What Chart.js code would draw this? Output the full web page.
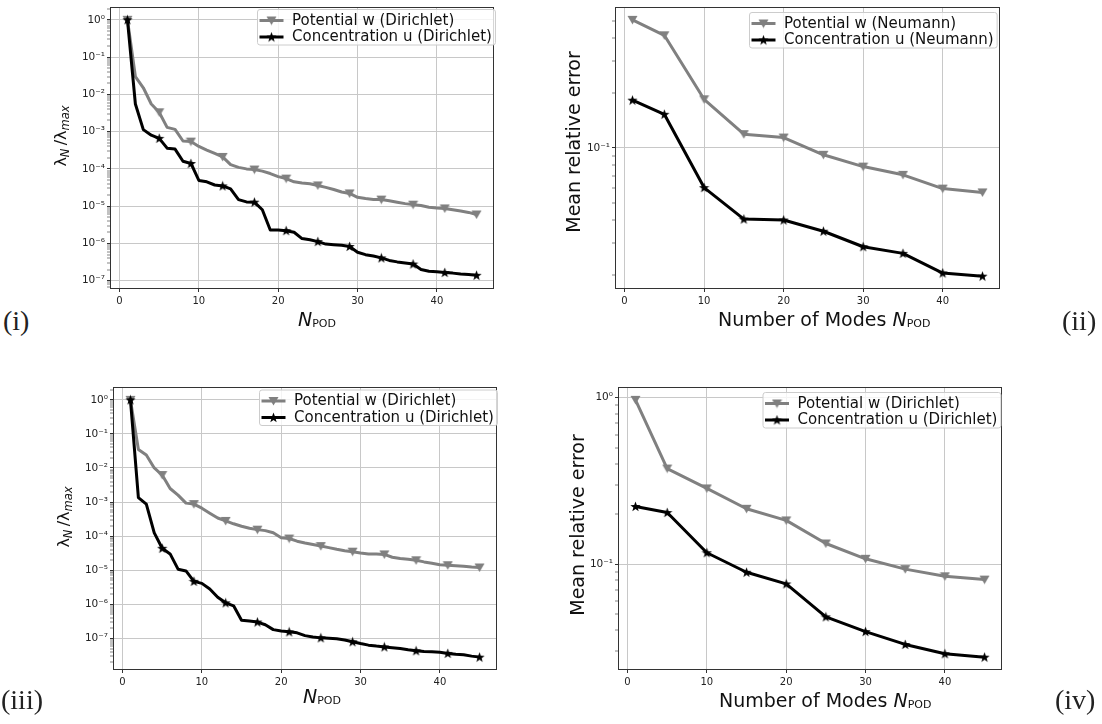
<!DOCTYPE html>
<html>
<head>
<meta charset="utf-8">
<script src="https://cdn.jsdelivr.net/npm/chart.js@4.4.1/dist/chart.umd.min.js"></script>
<style>
  body { margin: 0; background: #fff; }
  #fig { position: relative; width: 1102px; height: 724px; overflow: hidden;
         font-family: "DejaVu Sans", sans-serif; color: #111; }
  canvas { position: absolute; }
  .t { position: absolute; white-space: nowrap; }
  .rot { transform: translate(-50%, -50%) rotate(-90deg); }
  .sub { font-size: 11px; font-style: normal; position: relative; top: 1px; }
  .s { font-size: 11.5px; font-style: italic; position: relative; top: 3px; }
  .tag { font-family: "Liberation Serif", serif; font-size: 28px; line-height: 28px; color: #222; }
</style>
</head>
<body>
<div id="fig">
  <canvas id="c1" width="432" height="312" style="left:70px;top:0px"></canvas>
  <canvas id="c2" width="432" height="312" style="left:575px;top:0px"></canvas>
  <canvas id="c3" width="432" height="313" style="left:73px;top:380px"></canvas>
  <canvas id="c4" width="432" height="313" style="left:578px;top:380px"></canvas>

  <!-- axis titles -->
  <div class="t rot" style="left:61px;top:136px;font-size:16px;line-height:16px">λ<i class="s">N</i>&thinsp;/λ<i class="s">max</i></div>
  <div class="t" style="left:298px;top:310px;font-size:19px;line-height:19px"><i>N</i><span class="sub">POD</span></div>
  <div class="t rot" style="left:573px;top:142px;font-size:19px;line-height:19px">Mean relative error</div>
  <div class="t" style="left:718px;top:310px;font-size:19px;line-height:19px">Number of Modes <i>N</i><span class="sub">POD</span></div>

  <div class="t rot" style="left:64px;top:517px;font-size:16px;line-height:16px">λ<i class="s">N</i>&thinsp;/λ<i class="s">max</i></div>
  <div class="t" style="left:303px;top:687px;font-size:19px;line-height:19px"><i>N</i><span class="sub">POD</span></div>
  <div class="t rot" style="left:577px;top:525px;font-size:19px;line-height:19px">Mean relative error</div>
  <div class="t" style="left:719px;top:691px;font-size:19px;line-height:19px">Number of Modes <i>N</i><span class="sub">POD</span></div>

  <!-- panel tags -->
  <div class="t tag" style="left:3px;top:307px">(i)</div>
  <div class="t tag" style="left:1062px;top:307px">(ii)</div>
  <div class="t tag" style="left:1px;top:686px">(iii)</div>
  <div class="t tag" style="left:1055px;top:686px">(iv)</div>
</div>

<script>
// POD eigenvalue decay, x = number of modes
const nPod = [1, 2, 3, 4, 5, 6, 7, 8, 9, 10,
  11, 12, 13, 14, 15, 16, 17, 18, 19, 20,
  21, 22, 23, 24, 25, 26, 27, 28, 29, 30,
  31, 32, 33, 34, 35, 36, 37, 38, 39, 40,
  41, 42, 43, 44, 45];

// panel (i)
const eigPotentialDir1 = [1, 3.0e-2, 1.5e-2, 5.5e-3, 3.3e-3, 1.3e-3, 1.15e-3, 5.6e-4, 5.4e-4, 4.0e-4,
  3.2e-4, 2.6e-4, 2.1e-4, 1.3e-4, 1.1e-4, 1.0e-4, 9.6e-5, 8.7e-5, 7.5e-5, 6.2e-5,
  5.5e-5, 4.5e-5, 4.2e-5, 4.0e-5, 3.6e-5, 3.2e-5, 2.8e-5, 2.4e-5, 2.2e-5, 1.73e-5,
  1.6e-5, 1.52e-5, 1.5e-5, 1.4e-5, 1.28e-5, 1.17e-5, 1.1e-5, 1.04e-5, 9.4e-6, 8.9e-6,
  8.7e-6, 8.0e-6, 7.4e-6, 6.8e-6, 6.0e-6];
const eigConcDir1 = [1, 5.5e-3, 1.13e-3, 8.0e-4, 6.6e-4, 3.6e-4, 3.4e-4, 1.6e-4, 1.4e-4, 4.9e-5,
  4.5e-5, 3.7e-5, 3.5e-5, 2.9e-5, 1.5e-5, 1.3e-5, 1.28e-5, 8.0e-6, 2.3e-6, 2.3e-6,
  2.2e-6, 2.0e-6, 1.35e-6, 1.25e-6, 1.12e-6, 9.6e-7, 9.2e-7, 8.9e-7, 8.3e-7, 5.8e-7,
  5.0e-7, 4.6e-7, 4.1e-7, 3.5e-7, 3.2e-7, 3.0e-7, 2.8e-7, 2.0e-7, 1.8e-7, 1.75e-7,
  1.66e-7, 1.6e-7, 1.52e-7, 1.47e-7, 1.4e-7];

// panel (iii)
const eigPotentialDir2 = [1, 3.5e-2, 2.4e-2, 1.0e-2, 6.2e-3, 2.5e-3, 1.6e-3, 9.3e-4, 8.7e-4, 6.6e-4,
  4.7e-4, 3.4e-4, 2.8e-4, 2.3e-4, 1.95e-4, 1.7e-4, 1.55e-4, 1.45e-4, 1.25e-4, 9.0e-5,
  8.5e-5, 7.1e-5, 6.3e-5, 5.7e-5, 5.1e-5, 4.6e-5, 4.1e-5, 3.7e-5, 3.5e-5, 3.2e-5,
  3.0e-5, 3.0e-5, 2.9e-5, 2.4e-5, 2.2e-5, 2.1e-5, 1.95e-5, 1.75e-5, 1.6e-5, 1.44e-5,
  1.4e-5, 1.35e-5, 1.3e-5, 1.23e-5, 1.2e-5];
const eigConcDir2 = [1, 1.35e-3, 8.7e-4, 1.25e-4, 4.4e-5, 3.0e-5, 1.07e-5, 9.5e-6, 4.7e-6, 4.1e-6,
  2.8e-6, 1.6e-6, 1.1e-6, 9.0e-7, 3.4e-7, 3.2e-7, 3.0e-7, 2.5e-7, 1.8e-7, 1.65e-7,
  1.55e-7, 1.45e-7, 1.2e-7, 1.1e-7, 1.03e-7, 1.0e-7, 9.7e-8, 8.9e-8, 7.9e-8, 7.0e-8,
  6.3e-8, 5.9e-8, 5.6e-8, 5.3e-8, 5.0e-8, 4.6e-8, 4.3e-8, 4.1e-8, 4.0e-8, 3.9e-8,
  3.6e-8, 3.4e-8, 3.3e-8, 3.0e-8, 2.8e-8];

// mean relative error vs number of modes
const nModes = [1, 5, 10, 15, 20, 25, 30, 35, 40, 45];
const errPotentialNeu = [0.506, 0.416, 0.185, 0.119, 0.114, 0.0916, 0.0789, 0.0711, 0.0597, 0.0569];
const errConcNeu = [0.183, 0.153, 0.0605, 0.0406, 0.0401, 0.0348, 0.0286, 0.0263, 0.0205, 0.0197];
const errPotentialDir = [0.97, 0.375, 0.285, 0.215, 0.183, 0.133, 0.1076, 0.0933, 0.0845, 0.0807];
const errConcDir = [0.222, 0.204, 0.117, 0.0893, 0.076, 0.0482, 0.0393, 0.0329, 0.0289, 0.0276];

const xTickValues = [0, 10, 20, 30, 40];
const labelsDir = ['Potential w (Dirichlet)', 'Concentration u (Dirichlet)'];
const labelsNeu = ['Potential w (Neumann)', 'Concentration u (Neumann)'];

const GRAY = '#808080';
const FONT = '"DejaVu Sans", sans-serif';

// matplotlib-like markers ('v' and '*')
function triMarker() {
  const c = document.createElement('canvas');
  c.width = 11; c.height = 10;
  const g = c.getContext('2d');
  g.fillStyle = GRAY;
  g.beginPath();
  g.moveTo(0.5, 1); g.lineTo(10.5, 1); g.lineTo(5.5, 9.5);
  g.closePath(); g.fill();
  return c;
}
function starMarker() {
  const c = document.createElement('canvas');
  c.width = 11; c.height = 11;
  const g = c.getContext('2d');
  g.fillStyle = '#000';
  g.beginPath();
  for (let k = 0; k < 10; k++) {
    const r = k % 2 ? 2.2 : 5.4;
    const a = -Math.PI / 2 + k * Math.PI / 5;
    g.lineTo(5.5 + r * Math.cos(a), 5.9 + r * Math.sin(a));
  }
  g.closePath(); g.fill();
  return c;
}
const TRI = triMarker(), STAR = starMarker();

const isDecade = v => Math.abs(Math.log10(v) - Math.round(Math.log10(v))) < 1e-6;
const SUP = { '-': '⁻', '0': '⁰', '1': '¹', '2': '²', '3': '³', '4': '⁴', '5': '⁵', '6': '⁶', '7': '⁷', '8': '⁸', '9': '⁹' };
const expLabel = v => '10' + String(Math.round(Math.log10(v))).split('').map(ch => SUP[ch]).join('');

function logTicks(min, max) {
  const out = [];
  for (let e = Math.floor(Math.log10(min)); e <= Math.ceil(Math.log10(max)); e++) {
    for (let m = 1; m < 10; m++) {
      const v = m * Math.pow(10, e);
      if (v >= min && v <= max) out.push({ value: v });
    }
  }
  return out;
}
// matplotlib autoscale: 5% margin (in log space for y)
function logRange(arrs) {
  let lo = Infinity, hi = -Infinity;
  arrs.forEach(a => a.forEach(v => { const l = Math.log10(v); lo = Math.min(lo, l); hi = Math.max(hi, l); }));
  const m = (hi - lo) * 0.05;
  return [Math.pow(10, lo - m), Math.pow(10, hi + m)];
}
function linRange(a) {
  const lo = Math.min(...a), hi = Math.max(...a), m = (hi - lo) * 0.05;
  return [lo - m, hi + m];
}

// axes frame (all four spines)
const framePlugin = {
  id: 'frame',
  afterDatasetsDraw(chart) {
    const { ctx, chartArea: a } = chart;
    ctx.save();
    ctx.strokeStyle = '#333';
    ctx.lineWidth = 1;
    ctx.strokeRect(Math.round(a.left) + 0.5, Math.round(a.top) + 0.5,
      Math.round(a.right - a.left) - 1, Math.round(a.bottom - a.top) - 1);
    ctx.restore();
  }
};

// legend box in the upper right, drawn inside the axes
const legendPlugin = {
  id: 'panelLegend',
  afterDraw(chart, args, opts) {
    const { ctx, chartArea: a } = chart;
    const sets = chart.data.datasets.slice().sort((p, q) => q.order - p.order);
    ctx.save();
    ctx.font = '15px ' + FONT;
    const tw = Math.max(...sets.map(d => ctx.measureText(d.label).width));
    const x0 = a.left + opts.dx, y0 = a.top + opts.dy;
    const w = 35 + tw + 3, h = 35.5;
    ctx.fillStyle = 'rgba(255,255,255,0.8)';
    ctx.strokeStyle = '#cccccc';
    ctx.lineWidth = 1;
    ctx.beginPath();
    ctx.roundRect(x0 + 0.5, y0 + 0.5, w, h, 2.5);
    ctx.fill(); ctx.stroke();
    sets.forEach((d, i) => {
      const y = y0 + 11.5 + i * 16.5;
      ctx.strokeStyle = d.borderColor;
      ctx.lineWidth = 3;
      ctx.beginPath();
      ctx.moveTo(x0 + 2.5, y); ctx.lineTo(x0 + 26.5, y);
      ctx.stroke();
      const img = d.pointStyle;
      ctx.drawImage(img, x0 + 14.5 - img.width / 2, y - img.height / 2);
      ctx.fillStyle = '#111';
      ctx.textBaseline = 'middle';
      ctx.fillText(d.label, x0 + 35, y + 0.5);
    });
    ctx.restore();
  }
};

function series(label, xs, ys, color, marker, every, order) {
  return {
    label, order,
    data: xs.map((x, i) => ({ x, y: ys[i] })),
    borderColor: color, backgroundColor: color,
    borderWidth: 3, borderJoinStyle: 'round', borderCapStyle: 'round',
    pointStyle: marker,
    pointRadius: ctx => (ctx.dataIndex % every === 0 ? 4 : 0),
    tension: 0, fill: false
  };
}

function makePanel(id, xs, ys, labels, every, legend, padTop, padRight) {
  const [ymin, ymax] = logRange(ys);
  const [xmin, xmax] = linRange(xs);
  new Chart(document.getElementById(id), {
    type: 'line',
    data: {
      datasets: [
        series(labels[0], xs, ys[0], GRAY, TRI, every, 2),
        series(labels[1], xs, ys[1], '#000', STAR, every, 1)
      ]
    },
    options: {
      responsive: false, animation: false, events: [],
      layout: { padding: { top: padTop, right: padRight, left: 0, bottom: 0 } },
      plugins: { legend: { display: false }, tooltip: { enabled: false }, panelLegend: legend },
      scales: {
        x: {
          type: 'linear', min: xmin, max: xmax,
          afterBuildTicks: s => { s.ticks = xTickValues.map(v => ({ value: v })); },
          afterFit: s => { s.height = 23; s.paddingLeft = 0; s.paddingRight = 0; },
          border: { display: false },
          grid: { color: '#c8c8c8', lineWidth: 1, tickLength: 3, tickColor: '#333', tickWidth: 1 },
          ticks: { autoSkip: false, maxRotation: 0, padding: 3, color: '#222',
                   font: { family: FONT, size: 10 }, callback: v => String(v) }
        },
        y: {
          type: 'logarithmic', min: ymin, max: ymax,
          afterBuildTicks: s => { s.ticks = logTicks(ymin, ymax); },
          afterFit: s => { s.width = 40; s.paddingTop = 0; s.paddingBottom = 0; },
          border: { display: false },
          grid: {
            color: c => (c.tick && isDecade(c.tick.value) ? '#c8c8c8' : 'rgba(0,0,0,0)'),
            lineWidth: c => (c.tick && isDecade(c.tick.value) ? 1 : 0),
            tickLength: 3, tickColor: '#333',
            tickWidth: c => (c.tick && isDecade(c.tick.value) ? 1 : 0.6)
          },
          ticks: { autoSkip: false, padding: 2, color: '#222',
                   font: { family: FONT, size: 10.5 },
                   callback: v => (isDecade(v) ? expLabel(v) : '') }
        }
      }
    },
    plugins: [framePlugin, legendPlugin]
  });
}

makePanel('c1', nPod, [eigPotentialDir1, eigConcDir1], labelsDir, 4, { dx: 147, dy: 2 }, 3, 8);
makePanel('c2', nModes, [errPotentialNeu, errConcNeu], labelsNeu, 1, { dx: 134, dy: 5 }, 3, 7);
makePanel('c3', nPod, [eigPotentialDir2, eigConcDir2], labelsDir, 4, { dx: 146, dy: 2.5 }, 4, 8);
makePanel('c4', nModes, [errPotentialDir, errConcDir], labelsDir, 1, { dx: 144.5, dy: 5 }, 4, 8);
</script>
</body>
</html>
